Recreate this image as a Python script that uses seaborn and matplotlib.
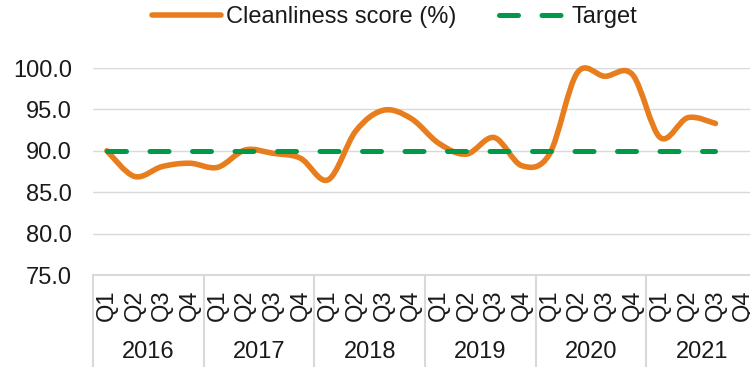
import numpy as np
import pandas as pd
import seaborn as sns
import matplotlib
matplotlib.use("Agg")
import matplotlib.pyplot as plt
from matplotlib.path import Path
from matplotlib.patches import PathPatch
from matplotlib.lines import Line2D
import matplotlib.transforms as mtransforms

# ---- data ----
years = ["2016", "2017", "2018", "2019", "2020", "2021"]
quarters = ["Q1", "Q2", "Q3", "Q4"]
score = [90.0, 86.9, 88.1, 88.5,
         88.0, 90.1, 89.7, 89.1,
         86.5, 92.4, 94.9, 93.9,
         90.9, 89.6, 91.6, 88.2,
         89.6, 99.4, 99.0, 99.2,
         91.6, 94.0, 93.3, np.nan]
target = [90.0] * 23 + [np.nan]
y_ticks = [75.0, 80.0, 85.0, 90.0, 95.0, 100.0]

ORANGE = "#E87D1E"
GREEN = "#00994A"
GRID = "#D9D9D9"
TEXT = "#1a1a1a"

sns.set_theme(style="white")
plt.rcParams["font.family"] = ["Liberation Sans", "DejaVu Sans"]
FS = 17

n = len(years) * len(quarters)
pos = np.arange(n)
df = pd.DataFrame({"pos": pos, "score": score, "target": target})

fig = plt.figure(figsize=(7.5, 3.67), dpi=100)
ax = fig.add_axes([93 / 750, 92 / 367, 664 / 750, 207 / 367])

# gridlines
for v in y_ticks:
    ax.axhline(v, color=GRID, lw=1.0, zorder=0)


def smooth_path(xy):
    """Catmull-Rom style cubic Bezier passing through every point."""
    m = len(xy)
    verts = [tuple(xy[0])]
    codes = [Path.MOVETO]
    for i in range(m - 1):
        p0 = xy[max(i - 1, 0)]
        p1 = xy[i]
        p2 = xy[i + 1]
        p3 = xy[min(i + 2, m - 1)]
        c1 = p1 + (p2 - p0) / 6.0
        c2 = p2 - (p3 - p1) / 6.0
        verts += [tuple(c1), tuple(c2), tuple(p2)]
        codes += [Path.CURVE4] * 3
    return Path(verts, codes)


pts = df.dropna(subset=["score"])[["pos", "score"]].to_numpy(dtype=float)
patch = PathPatch(smooth_path(pts), facecolor="none", edgecolor=ORANGE,
                  lw=4.0, capstyle="round", joinstyle="round", zorder=3,
                  clip_on=False)
ax.add_patch(patch)

# target line
sns.lineplot(data=df, x="pos", y="target", ax=ax, color=GREEN, lw=3.6,
             zorder=4, legend=False)
tl = ax.lines[-1]
tl.set_dashes((3.8, 4.7))
tl.set_dash_capstyle("round")
tl.set_clip_on(False)

ax.set_xlim(-0.5, n - 0.5)
ax.set_ylim(75, 100)
ax.set_yticks(y_ticks)
ax.set_yticklabels([f"{v:.1f}" for v in y_ticks], fontsize=FS, color=TEXT)
ax.tick_params(axis="y", length=0, pad=15)
ax.set_xticks([])
ax.set_xlabel("")
ax.set_ylabel("")
for s in ["left", "right", "top"]:
    ax.spines[s].set_visible(False)
ax.spines["bottom"].set_color(GRID)
ax.spines["bottom"].set_linewidth(1.5)

# two-level category axis
trans = mtransforms.blended_transform_factory(ax.transData, ax.transAxes)
for k in range(len(years) + 1):
    xb = k * 4 - 0.5
    ax.plot([xb, xb], [0, -0.5], transform=trans, color=GRID, lw=1.5,
            clip_on=False)
for i in range(n):
    ax.text(i, -0.145, quarters[i % 4], transform=trans, rotation=90,
            ha="center", va="center", fontsize=FS, color=TEXT)
for j, yr in enumerate(years):
    ax.text(j * 4 + 1.5, -0.372, yr, transform=trans, ha="center",
            va="center", fontsize=FS, color=TEXT)

# legend
handles = [
    Line2D([], [], color=ORANGE, lw=4.0, solid_capstyle="round"),
    Line2D([], [], color=GREEN, lw=3.6, dashes=(3.8, 4.7),
           dash_capstyle="round"),
]
leg = fig.legend(handles, ["Cleanliness score (%)", "Target"], loc="center",
                 bbox_to_anchor=(395 / 750, 1 - 17 / 367), ncol=2,
                 frameon=False, fontsize=FS, handlelength=2.9,
                 handletextpad=0.2, columnspacing=1.8)
for t in leg.get_texts():
    t.set_color(TEXT)

fig.savefig("out.png", dpi=100)
